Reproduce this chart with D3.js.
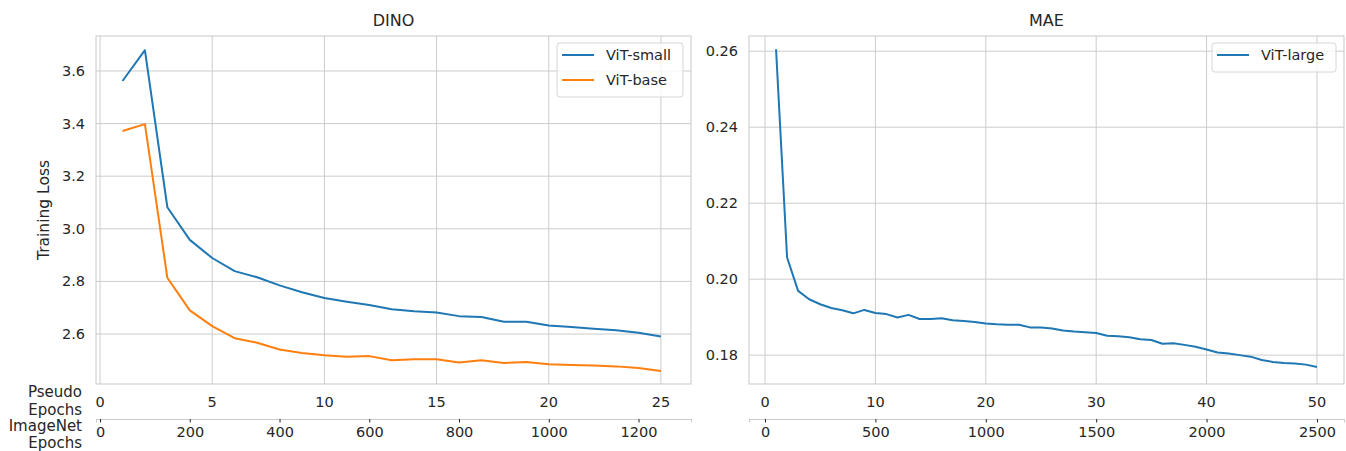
<!DOCTYPE html>
<html>
<head>
<meta charset="utf-8">
<script src="https://cdn.jsdelivr.net/npm/d3@7/dist/d3.min.js"></script>
<style>
body{margin:0;background:#fff;}
svg text{font-family:"DejaVu Sans",sans-serif;fill:#262626;}
</style>
</head>
<body>
<div id="chart-area"></div>
<script>
// data
var dinoEpochs=d3.range(1,26);
var vitSmall=[3.562,3.679,3.082,2.958,2.889,2.839,2.816,2.785,2.759,2.737,2.723,2.710,2.694,2.687,2.682,2.668,2.665,2.647,2.647,2.632,2.627,2.620,2.614,2.605,2.591];
var vitBase=[3.372,3.398,2.814,2.690,2.630,2.584,2.567,2.541,2.528,2.519,2.514,2.516,2.500,2.504,2.504,2.492,2.500,2.490,2.494,2.485,2.482,2.480,2.477,2.471,2.459];

var maeEpochs=d3.range(1,51);
var vitLarge=[0.2605,0.2057,0.1969,0.1947,0.1934,0.1924,0.1918,0.1910,0.1919,0.1911,
	0.1908,0.1899,0.1906,0.1895,0.1895,0.1897,0.1892,0.1890,0.1887,0.1883,
	0.1881,0.1880,0.1880,0.1873,0.1873,0.1870,0.1865,0.1862,0.1860,0.1858,
	0.1851,0.1850,0.1847,0.1842,0.1840,0.1830,0.1831,0.1827,0.1822,0.1815,
	0.1807,0.1804,0.1800,0.1796,0.1787,0.1782,0.1779,0.1778,0.1775,0.1769];

var dinoPseudoTicks=[0,5,10,15,20,25];
var dinoImgTicks=[0,200,400,600,800,1000,1200];
var dinoYTicks=[2.6,2.8,3.0,3.2,3.4,3.6];
var maePseudoTicks=[0,10,20,30,40,50];
var maeImgTicks=[0,500,1000,1500,2000,2500];
var maeYTicks=[0.18,0.20,0.22,0.24,0.26];
var imgPerPseudo=50;

var blue="#1f77b4", orange="#ff7f0e", grid="#cccccc";
var tickFont="14.5px";

var svg=d3.select("#chart-area").append("svg")
	.attr("width",1346)
	.attr("height",451);

function panel(opt){
	var x=d3.scaleLinear().domain(opt.xDomain).range([opt.x0,opt.x1]);
	var xi=d3.scaleLinear().domain(opt.xDomain.map(function(d){return d*imgPerPseudo;})).range([opt.x0,opt.x1]);
	var y=d3.scaleLinear().domain(opt.yDomain).range([384,36]);
	var g=svg.append("g");

	// grid
	g.append("g").selectAll("line").data(opt.xTicks).enter().append("line")
		.attr("x1",function(d){return x(d);}).attr("x2",function(d){return x(d);})
		.attr("y1",36).attr("y2",384)
		.attr("stroke",grid).attr("stroke-width",1);
	g.append("g").selectAll("line").data(opt.yTicks).enter().append("line")
		.attr("y1",function(d){return y(d);}).attr("y2",function(d){return y(d);})
		.attr("x1",opt.x0).attr("x2",opt.x1)
		.attr("stroke",grid).attr("stroke-width",1);

	g.append("rect")
		.attr("x",opt.x0).attr("y",36)
		.attr("width",opt.x1-opt.x0).attr("height",348)
		.attr("fill","none").attr("stroke",grid).attr("stroke-width",1.1);

	// y tick labels
	g.append("g").selectAll("text").data(opt.yTicks).enter().append("text")
		.attr("x",opt.x0-11).attr("y",function(d){return y(d);})
		.attr("dy","0.35em").attr("text-anchor","end")
		.attr("font-size",tickFont)
		.text(function(d){return d3.format(opt.yFmt)(d);});

	// pseudo epoch labels (no tick marks)
	g.append("g").selectAll("text").data(opt.xTicks).enter().append("text")
		.attr("x",function(d){return x(d);}).attr("y",402)
		.attr("dy","0.35em").attr("text-anchor","middle")
		.attr("font-size",tickFont)
		.text(function(d){return d;});

	// imagenet epoch axis
	var ax=g.append("g")
		.attr("transform","translate(0,419)")
		.call(d3.axisBottom(xi).tickValues(opt.imgTicks).tickSize(3.5).tickPadding(4).tickFormat(d3.format("d")));
	ax.select(".domain").attr("stroke",grid).attr("stroke-width",1.1);
	ax.selectAll(".tick line").attr("stroke","#262626").attr("stroke-width",1);
	ax.selectAll(".tick text")
		.attr("font-family","DejaVu Sans").attr("font-size",tickFont).attr("fill","#262626");

	// lines
	var line=d3.line()
		.x(function(d){return x(d[0]);})
		.y(function(d){return y(d[1]);});
	opt.series.forEach(function(s){
		g.append("path")
			.datum(d3.zip(opt.epochs,s.values))
			.attr("fill","none").attr("stroke",s.color)
			.attr("stroke-width",2).attr("stroke-linejoin","round")
			.attr("d",line);
	});

	// title
	g.append("text")
		.attr("x",(opt.x0+opt.x1)/2).attr("y",20)
		.attr("dy","0.35em").attr("text-anchor","middle")
		.attr("font-size","16px")
		.text(opt.title);

	// legend
	var lw=opt.legendWidth, lh=10+opt.series.length*25;
	var leg=g.append("g").attr("transform","translate("+(opt.x1-8-lw)+",43)");
	leg.append("rect")
		.attr("width",lw).attr("height",lh-6)
		.attr("rx",3).attr("fill","#fff").attr("fill-opacity",0.8)
		.attr("stroke","#d6d6d6").attr("stroke-width",1);
	opt.series.forEach(function(s,i){
		var row=leg.append("g").attr("transform","translate(0,"+(12+i*25)+")");
		row.append("line")
			.attr("x1",5).attr("x2",37)
			.attr("stroke",s.color).attr("stroke-width",2);
		row.append("text")
			.attr("x",49).attr("dy","0.35em")
			.attr("font-size",tickFont)
			.text(s.name);
	});
}

panel({
	title:"DINO",
	x0:96,x1:691,
	xDomain:[-0.18,26.34],
	yDomain:[2.41,3.733],
	xTicks:dinoPseudoTicks,
	imgTicks:dinoImgTicks,
	yTicks:dinoYTicks,
	yFmt:".1f",
	epochs:dinoEpochs,
	legendWidth:126,
	series:[{name:"ViT-small",values:vitSmall,color:blue},{name:"ViT-base",values:vitBase,color:orange}]
});

panel({
	title:"MAE",
	x0:749,x1:1344,
	xDomain:[-1.45,52.45],
	yDomain:[0.1724,0.264],
	xTicks:maePseudoTicks,
	imgTicks:maeImgTicks,
	yTicks:maeYTicks,
	yFmt:".2f",
	epochs:maeEpochs,
	legendWidth:124,
	series:[{name:"ViT-large",values:vitLarge,color:blue}]
});

// axis titles
svg.append("text")
	.attr("transform","translate(44,210) rotate(-90)")
	.attr("dy","0.35em").attr("text-anchor","middle")
	.attr("font-size","15.5px")
	.text("Training Loss");

var rowLabels=[["Pseudo",392],["Epochs",410],["ImageNet",426],["Epochs",443]];
svg.append("g").selectAll("text").data(rowLabels).enter().append("text")
	.attr("x",82).attr("y",function(d){return d[1];})
	.attr("dy","0.35em").attr("text-anchor","end")
	.attr("font-size","15px")
	.text(function(d){return d[0];});
</script>
</body>
</html>
